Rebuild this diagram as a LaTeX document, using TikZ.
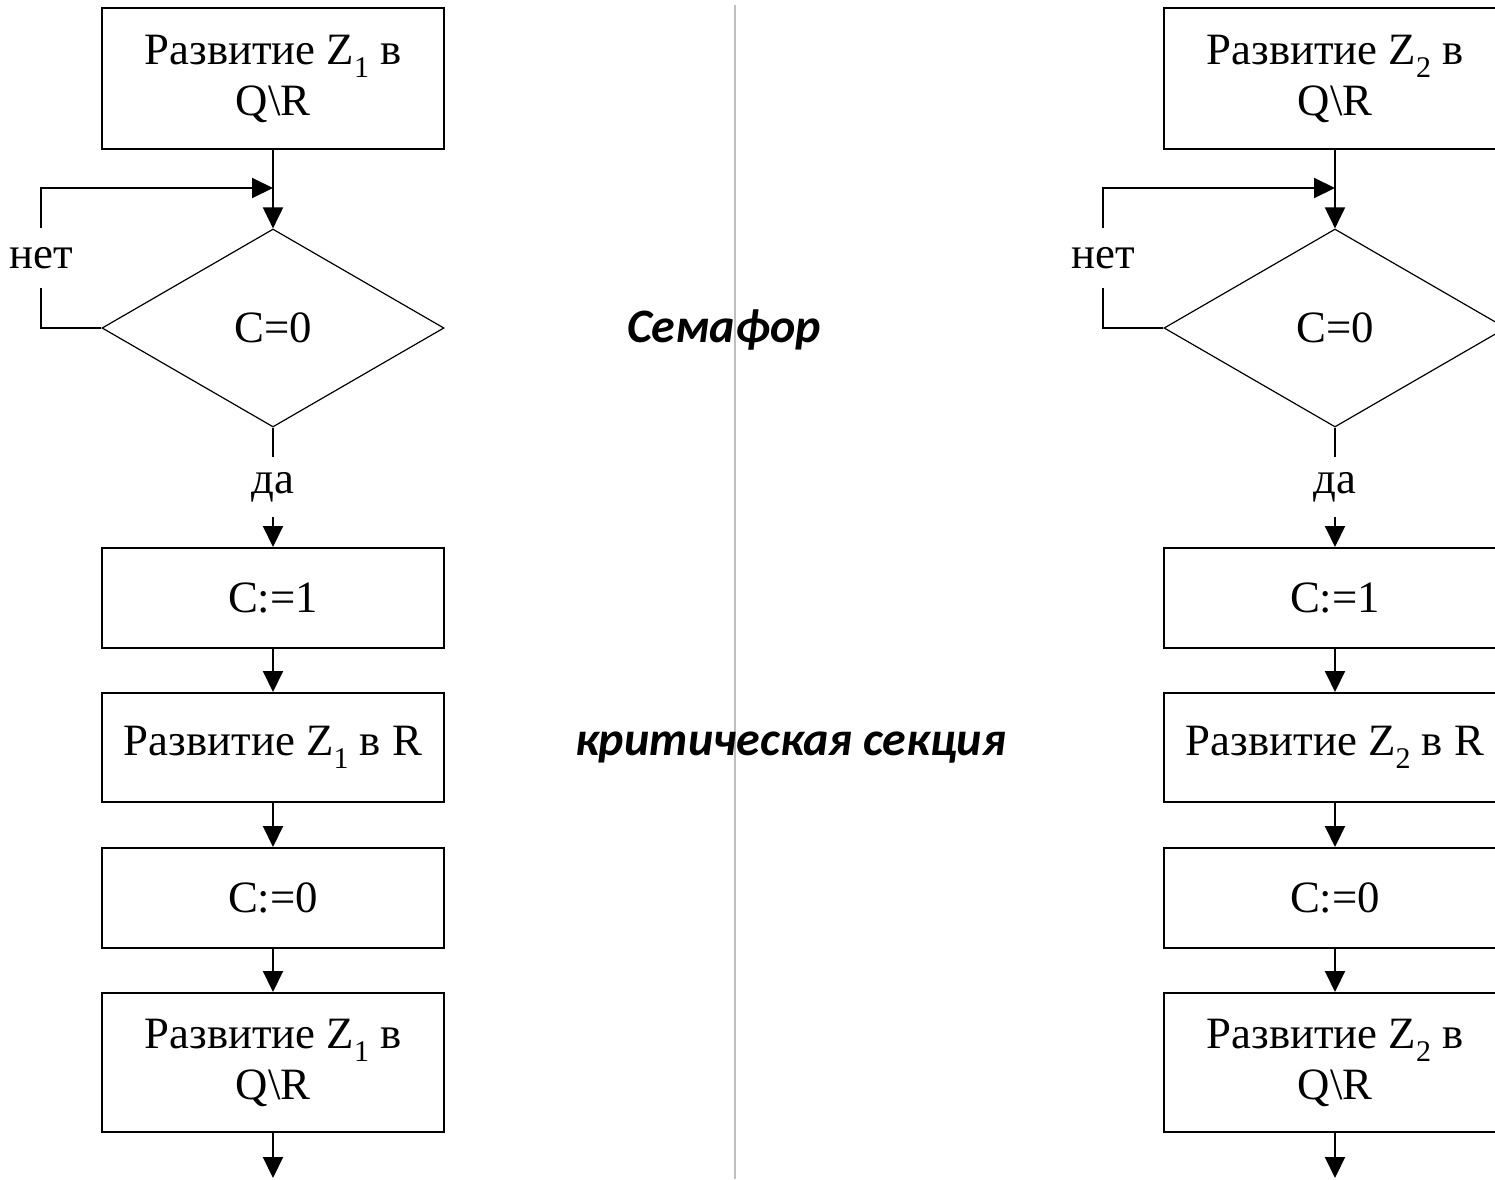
\documentclass[tikz,border=0pt]{standalone}
\usepackage{fontspec}
\setmainfont{Liberation Serif}
\newfontface\calibbi{Carlito Bold Italic}
\usetikzlibrary{shapes.geometric,arrows.meta}
\newcommand{\subidx}[1]{\raisebox{-0.3em}{\fontsize{15}{15}\selectfont #1}}
\begin{document}
\begin{tikzpicture}[x=0.5pt,y=-0.5pt,
  box/.style={draw,line width=1pt,minimum width=171pt,inner sep=0pt,align=center,font=\fontsize{22.4}{25.5}\selectfont},
  dec/.style={draw,diamond,line width=0.6pt,minimum width=171pt,minimum height=99pt,inner sep=0pt,font=\fontsize{22.4}{25.5}\selectfont},
  conn/.style={line width=1pt,-{Triangle[length=10.5pt,width=10pt]}},
  plain/.style={line width=1pt},
  lbl/.style={fill=white,font=\fontsize{22.4}{25.5}\selectfont,minimum height=30pt,inner xsep=1pt,inner ysep=0pt},
  captxt/.style={font=\calibbi\fontsize{24}{28}\selectfont,inner sep=0pt},
  divider/.style={line width=1pt,draw=black!25}
]
\clip (0,0) rectangle (1495,1179);
\fill[white] (0,0) rectangle (1495,1179);
\coordinate (dtop) at (734.5,5);
\coordinate (dbot) at (734.5,1179);
\draw[divider] (dtop) -- (dbot);
\node[captxt,anchor=base] (sem) at (724,342) {Семафор};
\node[captxt,anchor=base] (crit) at (790.5,755) {критическая секция};
\foreach \dx/\i in {0/1,1062/2} {
  \node[box,minimum height=70.5pt] (a\i) at ({273+\dx},78.5) {Развитие Z\subidx{\i} в\\Q\textbackslash R};
  \node[dec] (d\i) at ({273+\dx},328) {C=0};
  \node[box,minimum height=50pt] (c\i) at ({273+\dx},598) {C:=1};
  \node[box,minimum height=54.5pt] (r\i) at ({273+\dx},747.5) {Развитие Z\subidx{\i} в R};
  \node[box,minimum height=50pt] (z\i) at ({273+\dx},898) {C:=0};
  \node[box,minimum height=69.5pt] (e\i) at ({273+\dx},1062.5) {Развитие Z\subidx{\i} в\\Q\textbackslash R};
  \coordinate (j\i) at ({273+\dx},188);
  \coordinate (x\i) at ({273+\dx},1178);
  \draw[plain] (a\i.south) -- (j\i);
  \draw[conn] (j\i) -- (d\i.north);
  \draw[conn] (d\i.west) -- ++(-60,0) |- node[lbl,pos=0.25]{нет} (j\i);
  \draw[conn] (d\i.south) -- node[lbl]{да} (c\i.north);
  \draw[conn] (c\i.south) -- (r\i.north);
  \draw[conn] (r\i.south) -- (z\i.north);
  \draw[conn] (z\i.south) -- (e\i.north);
  \draw[conn] (e\i.south) -- (x\i);
}
\end{tikzpicture}
\end{document}
